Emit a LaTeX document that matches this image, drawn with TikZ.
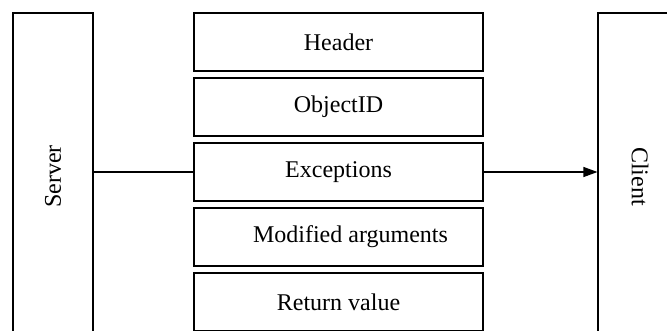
\documentclass[tikz,border=0pt]{standalone}
\usepackage{fontspec}
\setmainfont{Liberation Serif}
\usetikzlibrary{arrows.meta}
\begin{document}
\begin{tikzpicture}[x=1pt,y=-1pt,
  every node/.style={font=\fontsize{24}{28}\selectfont},
  box/.style={draw, line width=1.1pt, inner sep=0pt},
  field/.style={box, minimum width=289pt, minimum height=58pt},
  conn/.style={line width=1.1pt}]
\useasboundingbox (0,0) rectangle (667,330);
\clip (0,0) rectangle (667,330);
\node[box, minimum width=80pt, minimum height=327pt] (server) at (53,176.5) {\rotatebox{90}{Server}};
\node[box, minimum width=84pt, minimum height=327pt] (client) at (640,176.5) {\rotatebox{-90}{Client}};
\node[field] (hdr) at (338.5,42) {Header};
\node[field] (oid) at (338.5,107) {ObjectID};
\node[field] (exc) at (338.5,172) {Exceptions};
\node[field] (mod) at (338.5,237) {\hspace{24pt}Modified arguments};
\node[field] (ret) at (338.5,302) {Return value};
\draw[conn] (server.east |- exc.west) -- (exc.west);
\draw[conn, -{Triangle[length=14pt,width=10pt]}] (exc.east) -- (exc.east -| client.west);
\end{tikzpicture}
\end{document}
